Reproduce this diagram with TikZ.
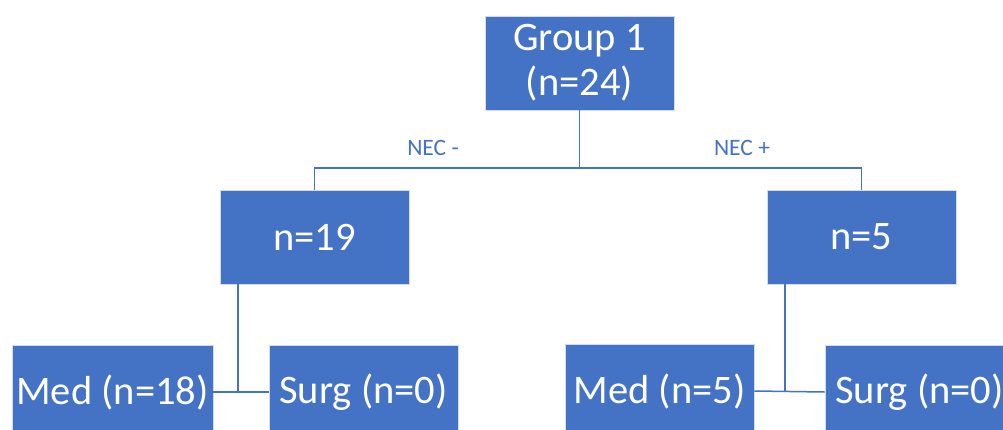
\documentclass[tikz,border=0pt]{standalone}
\usepackage{fontspec}
\setmainfont{Carlito}
\definecolor{boxblue}{HTML}{4472C4}
\tikzset{
  box/.style={fill=boxblue, draw=white!75!boxblue, line width=0.8pt, text=white,
    minimum width=189pt, minimum height=94pt, inner sep=0pt, align=center,
    font=\fontsize{40.5}{45}\selectfont},
  conn/.style={draw=boxblue, line width=1.5pt},
  lab/.style={text=boxblue, font=\fontsize{23.5}{26}\selectfont, anchor=base, inner sep=0pt}
}
\begin{document}
\begin{tikzpicture}[x=1pt,y=-1pt]
\useasboundingbox (0,0) rectangle (1003,430);
\clip (0,0) rectangle (1003,430);
\node[box] (g) at (579.5,63) {Group 1\\(n=24)};
\node[box] (n19) at (314.5,237) {n=19};
\node[box] (n5) at (861.5,237) {n=5};
\node[box, minimum width=201pt] (medL) at (112.5,392) {Med (n=18)};
\node[box] (surgL) at (363.5,392) {Surg (n=0)};
\node[box] (medR) at (659.5,391) {Med (n=5)};
\node[box] (surgR) at (919.5,392) {Surg (n=0)};
\coordinate (j) at (579.5,168);
\coordinate (lj) at (238,391);
\coordinate (rj) at (785,392);
\draw[conn] (g) -- (j);
\draw[conn] (n19.north) |- (j) -| (n5.north);
\draw[conn] (medL.east) -- (surgL.west);
\draw[conn] (n19.south -| lj) -- (lj);
\draw[conn] (medR.east) -- (surgR.west);
\draw[conn] (n5.south -| rj) -- (rj);
\node[lab] (neg) at (433,156) {NEC -};
\node[lab] (pos) at (742,156) {NEC +};
\end{tikzpicture}
\end{document}
